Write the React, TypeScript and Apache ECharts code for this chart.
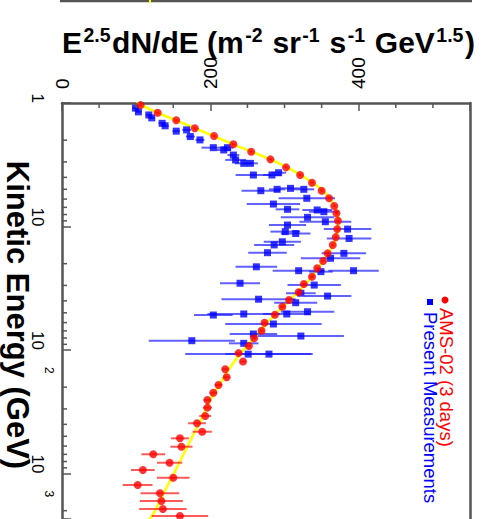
import React, { useEffect, useRef } from 'react';
import * as echarts from 'echarts';

// ---------- data ----------
// AMS-02 (3 days): kinetic energy (GeV), E^2.5 dN/dE, error
const amsEnergy = [1.04, 1.2, 1.38, 1.6, 1.85, 2.16, 2.48, 2.86, 3.32, 3.83, 4.42, 5.13, 5.91, 6.82, 7.82, 8.97, 10.5, 12.2, 14.1, 16.5, 19.0, 21.8, 25.5, 29.2, 34.1, 39.4, 44.6, 51.8, 60.1, 69.8, 80.4, 92.8, 106, 124, 143, 166, 192, 222, 254, 293, 342, 392, 459, 519, 607, 699, 818, 937, 1081, 1239, 1446, 1670, 1937, 2208];
const amsFlux = [106, 129, 154, 179, 205, 231, 255, 281, 302, 321, 337, 350, 360, 367, 370, 372, 371, 369, 365, 358, 352, 344, 337, 326, 319, 306, 297, 287, 273, 269, 259, 252, 238, 244, 220, 222, 211, 204, 196, 196, 193, 182, 189, 159, 161, 123, 145, 109, 150, 102, 132, 134, 136, 159];
const amsErr = [2, 2, 2, 2, 2, 2, 2, 2, 2, 2, 2, 2, 2, 2, 2, 2, 2, 2, 2, 2, 3, 3, 3, 3, 3, 3, 3, 3, 3, 3, 3, 3, 4, 4, 4, 4, 5, 5, 5, 6, 8, 12, 13, 12, 15, 16, 17, 16, 22, 20, 26, 29, 32, 38];

// Fit curve (yellow)
const fitEnergy = [1.0, 1.2, 1.6, 2.16, 2.86, 3.83, 5.13, 6.82, 8.97, 10.5, 14.1, 19, 25.5, 34, 44.6, 60, 80, 106, 143, 192, 254, 342, 459, 607, 818, 1081, 1446, 1937, 2400];
const fitFlux = [100, 129, 179, 231, 281, 322, 352, 368, 373, 372, 366, 352, 337, 318, 298, 277, 259, 241, 225, 212, 200, 190, 179, 169, 158, 148, 137, 127, 117];

// Present Measurements
const pmEnergy = [1.1, 1.18, 1.25, 1.32, 1.46, 1.53, 1.69, 1.65, 1.87, 1.99, 2.3, 2.4, 2.3, 2.64, 2.89, 3.08, 3.08, 3.83, 3.83, 3.67, 5.13, 5.0, 4.91, 5.0, 5.91, 6.58, 7.26, 7.35, 7.59, 8.43, 9.15, 9.73, 11.0, 11.4, 10.5, 12.5, 13.3, 14.1, 16.3, 18.1, 16.5, 21.2, 22.8, 23.2, 22.8, 28.8, 29.8, 34.7, 36.6, 38.8, 41.4, 49.0, 52.1, 51.1, 51.1, 61.6, 74.2, 77.1, 84.1, 88.3, 108, 108];
const pmFlux = [99, 103, 117, 121, 135, 139, 154, 168, 173, 186, 204, 218, 223, 231, 234, 245, 254, 258, 283, 292, 268, 290, 308, 326, 330, 285, 304, 344, 353, 331, 355, 304, 301, 315, 385, 387, 297, 286, 277, 362, 380, 262, 319, 349, 393, 240, 340, 322, 358, 265, 315, 331, 204, 245, 303, 285, 258, 322, 175, 245, 251, 279];
const pmErr = [4, 4, 4, 4, 5, 5, 5, 6, 6, 6, 16, 10, 8, 8, 14, 12, 10, 24, 12, 10, 26, 11, 14, 14, 38, 36, 16, 20, 20, 36, 35, 25, 20, 20, 32, 30, 25, 27, 26, 40, 30, 28, 35, 16, 34, 27, 36, 20, 32, 50, 29, 36, 26, 49, 32, 65, 32, 58, 58, 20, 85, 59];

// ticks and labels
const fluxLabels = [0, 200, 400];
const fluxMinorTicks = [50, 100, 150, 250, 300, 350, 450, 500];
const energyMinorTicks = [2, 3, 4, 5, 6, 7, 8, 9, 20, 30, 40, 50, 60, 70, 80, 90, 200, 300, 400, 500, 600, 700, 800, 900, 2000];
const energyBaseLabels: Record<number, string> = { 1: '1', 10: '10', 100: '10', 1000: '10' };
const energyExpLabels: Record<number, string> = { 100: '2', 1000: '3' };

const FONT = '"Liberation Sans", Arial, Helvetica, sans-serif';
const AXIS = '#555555';

function pick(map: Record<number, string>) {
  return (v: number) => {
    const r = Math.round(v);
    return Math.abs(v - r) < 1e-6 && map[r] ? map[r] : '';
  };
}

function errBar(color: string) {
  return (params: any, api: any) => {
    const f = api.value(0);
    const e = api.value(1);
    const d = api.value(2);
    const a = api.coord([f - d, e]);
    const b = api.coord([f + d, e]);
    return {
      type: 'line',
      shape: { x1: a[0], y1: a[1], x2: b[0], y2: b[1] },
      style: { stroke: color, lineWidth: 2 },
    };
  };
}

export default function App() {
  const ref = useRef<HTMLDivElement>(null);
  useEffect(() => {
    const chart = echarts.init(ref.current!, null, { renderer: 'svg' });
    const option: any = {
      animation: false,
      backgroundColor: '#ffffff',
      textStyle: { fontFamily: FONT },
      grid: { left: 62, top: 103, right: 12, bottom: 0, containLabel: false, outerBoundsMode: 'none' },
      xAxis: [
        {
          type: 'value',
          position: 'top',
          min: 0,
          max: 550,
          interval: 200,
          axisLine: { show: true, onZero: false, lineStyle: { color: AXIS, width: 2.5 } },
          axisTick: { show: true, inside: true, length: 8, lineStyle: { color: AXIS, width: 1.5 } },
          axisLabel: {
            rotate: -90,
            margin: 14,
            fontSize: 19,
            color: '#000',
            fontFamily: FONT,
            formatter: (v: number) => (fluxLabels.indexOf(v) >= 0 ? String(v) : ''),
          },
          splitLine: { show: false },
        },
      ],
      yAxis: [
        {
          type: 'log',
          logBase: 10,
          inverse: true,
          min: 1,
          max: 2336,
          axisLine: { show: true, onZero: false, lineStyle: { color: AXIS, width: 2.5 } },
          axisTick: { show: true, inside: true, length: 9, lineStyle: { color: AXIS, width: 1.5 } },
          axisLabel: {
            rotate: -90,
            margin: 16,
            fontSize: 17,
            color: '#000',
            fontFamily: FONT,
            align: 'right',
            verticalAlign: 'top',
            formatter: pick(energyBaseLabels),
          },
          splitLine: { show: false },
        },
        {
          type: 'value',
          position: 'right',
          min: 0,
          max: 1,
          axisLine: { show: true, onZero: false, lineStyle: { color: AXIS, width: 2.5 } },
          axisTick: { show: false },
          axisLabel: { show: false },
          splitLine: { show: false },
        },
        {
          type: 'log',
          logBase: 10,
          inverse: true,
          min: 1,
          max: 2336,
          position: 'left',
          offset: 0,
          axisLine: { show: false },
          axisTick: { show: false },
          axisLabel: {
            rotate: -90,
            margin: 7,
            fontSize: 12,
            color: '#000',
            fontFamily: FONT,
            align: 'left',
            verticalAlign: 'top',
            padding: [0, 0, 0, 17],
            formatter: pick(energyExpLabels),
          },
          splitLine: { show: false },
        },
      ],
      series: [
        {
          type: 'line',
          data: fitEnergy.map((e, i) => [fitFlux[i], e]),
          showSymbol: false,
          smooth: 0.2,
          lineStyle: { color: '#ffff00', width: 2.5 },
          z: 1,
        },
        {
          type: 'custom',
          data: pmEnergy.map((e, i) => [pmFlux[i], e, pmErr[i]]),
          encode: { x: 0, y: 1 },
          renderItem: errBar('rgba(30,30,255,0.7)'),
          clip: true,
          z: 2,
        },
        {
          type: 'scatter',
          data: pmEnergy.map((e, i) => [pmFlux[i], e]),
          symbol: 'rect',
          symbolSize: 7,
          itemStyle: { color: '#0000ff' },
          z: 3,
        },
        {
          type: 'custom',
          data: amsEnergy.map((e, i) => [amsFlux[i], e, amsErr[i]]),
          encode: { x: 0, y: 1 },
          renderItem: errBar('rgba(255,20,20,0.7)'),
          clip: true,
          z: 4,
        },
        {
          type: 'scatter',
          data: amsEnergy.map((e, i) => [amsFlux[i], e]),
          symbol: 'circle',
          symbolSize: 8,
          itemStyle: { color: '#ff0000' },
          z: 5,
        },
        {
          type: 'custom',
          data: energyMinorTicks.map((e) => [0, e]),
          encode: { x: 0, y: 1 },
          silent: true,
          renderItem: (params: any, api: any) => {
            const p = api.coord([0, api.value(1)]);
            return { type: 'line', shape: { x1: p[0], y1: p[1], x2: p[0] + 5, y2: p[1] }, style: { stroke: AXIS, lineWidth: 1.5 } };
          },
          z: 6,
        },
        {
          type: 'custom',
          data: fluxMinorTicks.map((f) => [f, 1]),
          encode: { x: 0, y: 1 },
          silent: true,
          renderItem: (params: any, api: any) => {
            const p = api.coord([api.value(0), 1]);
            return { type: 'line', shape: { x1: p[0], y1: p[1], x2: p[0], y2: p[1] + 5 }, style: { stroke: AXIS, lineWidth: 1.5 } };
          },
          z: 6,
        },
      ],
      graphic: [
        { type: 'line', shape: { x1: 60, y1: 1, x2: 472, y2: 1 }, style: { stroke: AXIS, lineWidth: 2.5 } },
        { type: 'line', shape: { x1: 150, y1: 0, x2: 150, y2: 3 }, style: { stroke: '#ffff00', lineWidth: 2 } },
        {
          type: 'text',
          x: 62,
          y: 42,
          style: {
            text: 'E{s|2.5}dN/dE (m{s|-2} sr{s|-1} s{s|-1} GeV{s|1.5})',
            fontSize: 30,
            fontWeight: 'bold',
            fontFamily: FONT,
            fill: '#000',
            align: 'left',
            verticalAlign: 'middle',
            rich: { s: { fontSize: 19.5, fontWeight: 'bold', fontFamily: FONT, fill: '#000', padding: [0, 1.5, 14, 1.5] } },
          },
        },
        {
          type: 'text',
          x: 17.5,
          y: 315,
          rotation: -Math.PI / 2,
          style: { text: 'Kinetic Energy (GeV)', fill: '#000', fontSize: 31, fontWeight: 'bold', fontFamily: FONT, align: 'center', verticalAlign: 'middle' },
        },
        { type: 'circle', shape: { cx: 445, cy: 300, r: 3.5 }, style: { fill: '#ff0000' } },
        {
          type: 'text',
          x: 446,
          y: 308,
          rotation: -Math.PI / 2,
          style: { text: 'AMS-02 (3 days)', fill: '#ff0000', fontSize: 18.5, fontFamily: FONT, align: 'left', verticalAlign: 'middle' },
        },
        { type: 'rect', shape: { x: 427, y: 299, width: 6, height: 6 }, style: { fill: '#0000ff' } },
        {
          type: 'text',
          x: 430,
          y: 312,
          rotation: -Math.PI / 2,
          style: { text: 'Present Measurements', fill: '#0000ff', fontSize: 18.5, fontFamily: FONT, align: 'left', verticalAlign: 'middle' },
        },
      ],
    };
    chart.setOption(option);
    return () => chart.dispose();
  }, []);
  return <div ref={ref} style={{ position: 'absolute', left: 0, top: 0, width: 482, height: 519 }} />;
}
